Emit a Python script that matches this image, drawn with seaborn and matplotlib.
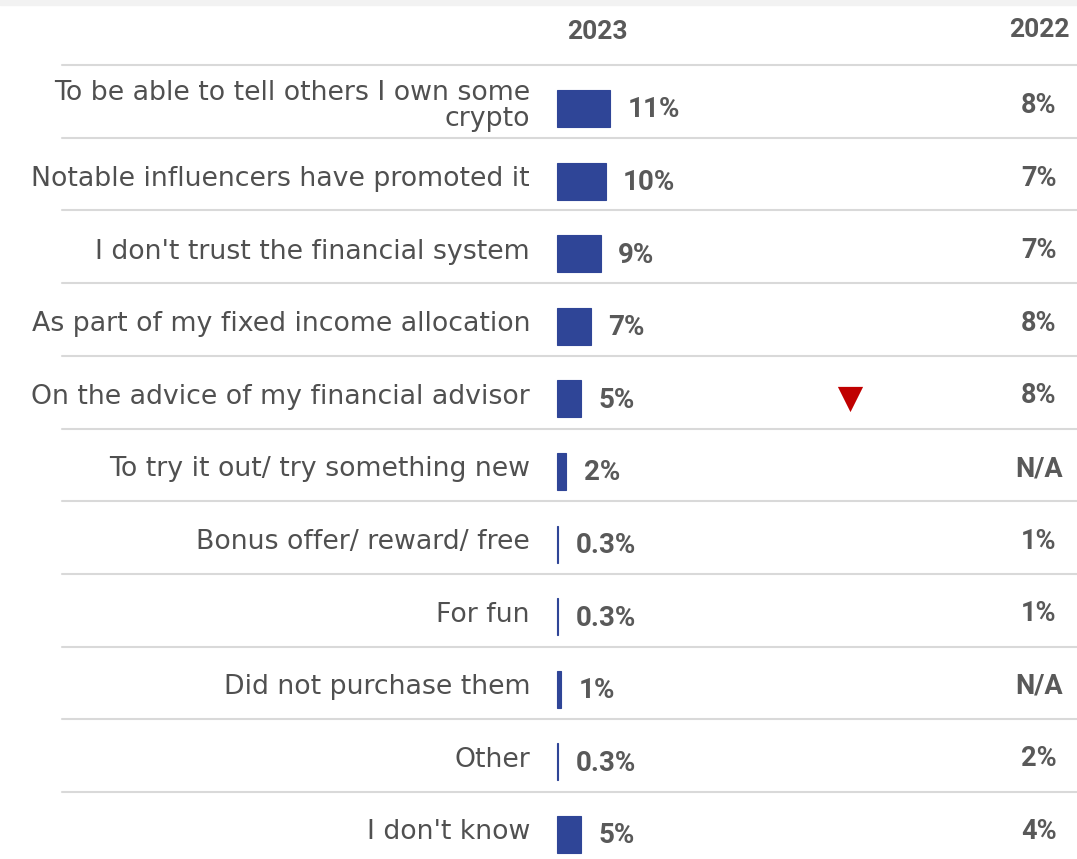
import matplotlib
matplotlib.use("Agg")
import matplotlib.pyplot as plt
import pandas as pd
import seaborn as sns

# ---- data ----
categories = [
    "To be able to tell others I own some\ncrypto",
    "Notable influencers have promoted it",
    "I don't trust the financial system",
    "As part of my fixed income allocation",
    "On the advice of my financial advisor",
    "To try it out/ try something new",
    "Bonus offer/ reward/ free",
    "For fun",
    "Did not purchase them",
    "Other",
    "I don't know",
]
pct_2023 = [11, 10, 9, 7, 5, 2, 0.3, 0.3, 1, 0.3, 5]
labels_2023 = ["11%", "10%", "9%", "7%", "5%", "2%", "0.3%", "0.3%", "1%", "0.3%", "5%"]
labels_2022 = ["8%", "7%", "7%", "8%", "8%", "N/A", "1%", "1%", "N/A", "2%", "4%"]
drop_rows = [4]  # significant decrease vs 2022

BAR_COLOR = "#2f4597"
TEXT_GRAY = "#595959"
LABEL_GRAY = "#505050"
LINE_GRAY = "#d9d9d9"

# geometry (pixels -> data units)
W, H = 1077, 859
X0, PX_PER_PCT = 556.5, 4.9
Y0, PX_PER_ROW = 108.5, 72.6

df = pd.DataFrame({"reason": categories, "pct": pct_2023})

sns.set_theme(style="white")
plt.rcParams["font.family"] = ["DejaVu Sans"]

fig = plt.figure(figsize=(W / 100, H / 100), dpi=100)
ax = fig.add_axes([0, 0, 1, 1])

sns.barplot(data=df, x="pct", y="reason", orient="h", color=BAR_COLOR,
            saturation=1, width=0.51, edgecolor=BAR_COLOR, linewidth=0.8, ax=ax)

ax.set_xlim(-X0 / PX_PER_PCT, (W - X0) / PX_PER_PCT)
ax.set_ylim((H - Y0) / PX_PER_ROW, -Y0 / PX_PER_ROW)
ax.axis("off")


def px_x(p):
    return (p - X0) / PX_PER_PCT


def px_y(p):
    return (p - Y0) / PX_PER_ROW


# light strip at top
fig.patches.append(plt.Rectangle((0, 1 - 5 / H), 1, 5 / H, transform=fig.transFigure,
                                 color="#f2f2f2", zorder=0))

# separators
for i in range(len(categories)):
    y = px_y(65 + 72.7 * i)
    ax.plot([px_x(62), px_x(W)], [y, y], color=LINE_GRAY, lw=1.5, zorder=0)

# headers
ax.text(px_x(597), px_y(32), "2023", ha="center", va="center", fontsize=19,
        fontweight="bold", family="Roboto", color=TEXT_GRAY)
ax.text(px_x(1039), px_y(30), "2022", ha="center", va="center", fontsize=19,
        fontweight="bold", family="Roboto", color=TEXT_GRAY)

for i, (cat, v, l23, l22) in enumerate(zip(categories, pct_2023, labels_2023, labels_2022)):
    ax.text(px_x(530), i - 0.03, cat, ha="right", va="center", fontsize=19.3,
            color=LABEL_GRAY, linespacing=1.0)
    ax.text(v + 3.6, i + 0.02, l23, ha="left", va="center", fontsize=20,
            fontweight="bold", family="Roboto", color=TEXT_GRAY)
    ax.text(px_x(1039), i - 0.04, l22, ha="center", va="center", fontsize=19.5,
            fontweight="bold", family="Roboto", color=TEXT_GRAY)

for i in drop_rows:
    ax.scatter([px_x(850)], [i], marker="v", s=330, color="#c00000", linewidths=0)

fig.savefig("out.png", dpi=100)
